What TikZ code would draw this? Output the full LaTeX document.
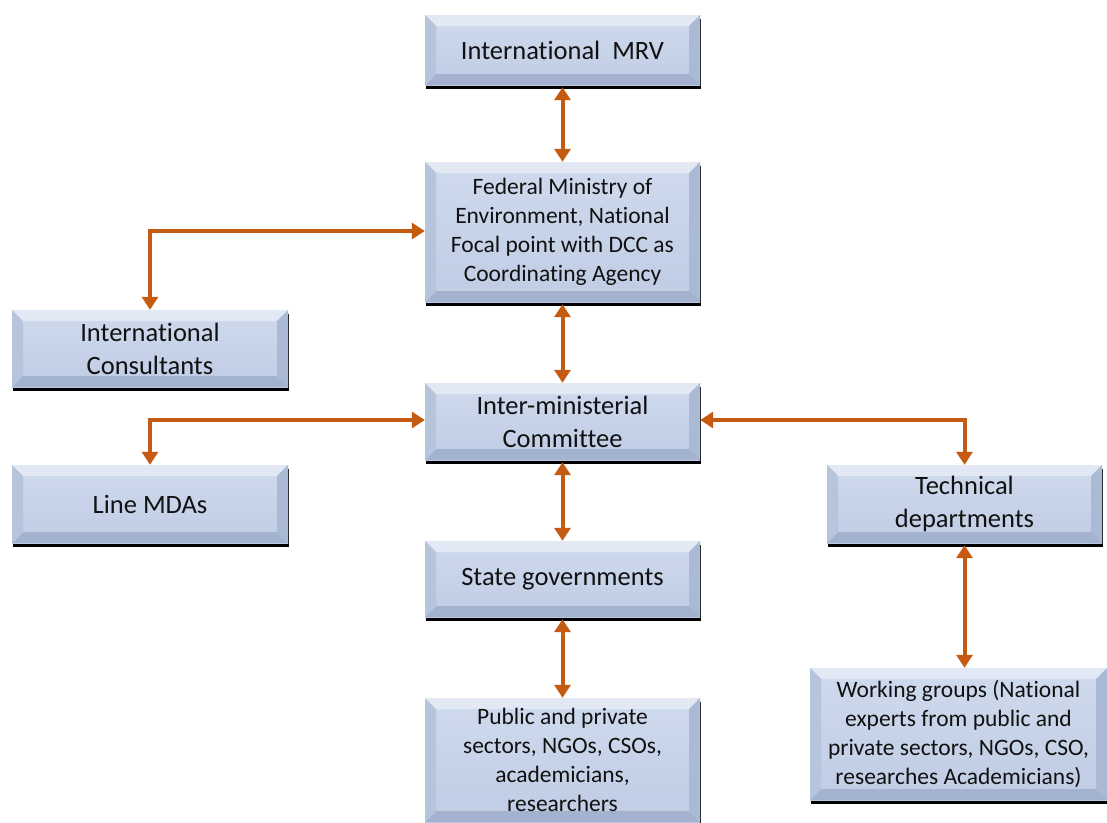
\documentclass[tikz,border=0pt]{standalone}
\usepackage{fontspec}
\setmainfont{Carlito}[Ligatures={NoCommon}]
\usetikzlibrary{arrows.meta,shadows}
\definecolor{boxtop}{HTML}{CFDAED}
\definecolor{boxbot}{HTML}{BFCCE4}
\definecolor{bevtop}{HTML}{E2E9F5}
\definecolor{bevright}{HTML}{AAB9D4}
\definecolor{bevbot}{HTML}{A2B2CF}
\definecolor{bevleft}{HTML}{B6C4DC}
\definecolor{arrc}{HTML}{C55A11}
\definecolor{txt}{HTML}{111111}
\tikzset{
  bevelbox/.style={top color=boxtop, bottom color=boxbot, inner sep=0pt, align=center, text=txt,
    drop shadow={shadow xshift=1pt, shadow yshift=-3.5pt, fill=black, opacity=1},
    path picture={
      \coordinate (pA) at (path picture bounding box.north west);
      \coordinate (pB) at (path picture bounding box.north east);
      \coordinate (pC) at (path picture bounding box.south east);
      \coordinate (pD) at (path picture bounding box.south west);
      \fill[bevtop] (pA) -- (pB) -- ([shift={(-11pt,-11pt)}]pB) -- ([shift={(11pt,-11pt)}]pA) -- cycle;
      \fill[bevright] (pB) -- (pC) -- ([shift={(-11pt,11pt)}]pC) -- ([shift={(-11pt,-11pt)}]pB) -- cycle;
      \fill[bevbot] (pC) -- (pD) -- ([shift={(11pt,11pt)}]pD) -- ([shift={(-11pt,11pt)}]pC) -- cycle;
      \fill[bevleft] (pD) -- (pA) -- ([shift={(11pt,-11pt)}]pA) -- ([shift={(11pt,11pt)}]pD) -- cycle;
    }},
  bigtext/.style={font=\fontsize{26.5}{33}\selectfont},
  smalltext/.style={font=\fontsize{23.5}{29}\selectfont},
  conn/.style={draw=arrc, line width=4pt,
    {Triangle[width=16pt,length=13pt]}-{Triangle[width=16pt,length=13pt]}}
}
\begin{document}
\begin{tikzpicture}[x=1pt,y=-1pt]
\useasboundingbox (0,0) rectangle (1107,822);
\node[bevelbox,bigtext,minimum width=275,minimum height=70] (mrv) at (562.5,50) {International\ \ MRV};
\node[bevelbox,smalltext,minimum width=275,minimum height=140] (fed) at (562.5,232) {Federal Ministry of\\Environment, National\\Focal point with DCC as\\Coordinating Agency};
\node[bevelbox,bigtext,minimum width=276,minimum height=77] (cons) at (150,348.5) {International\\Consultants};
\node[bevelbox,bigtext,minimum width=275,minimum height=77] (imc) at (562.5,421.5) {Inter-ministerial\\Committee};
\node[bevelbox,bigtext,minimum width=276,minimum height=78] (mda) at (150,504) {Line MDAs};
\node[bevelbox,bigtext,minimum width=275,minimum height=78] (tech) at (964.5,504) {Technical\\departments};
\node[bevelbox,bigtext,minimum width=275,minimum height=76] (state) at (562.5,579) {State governments};
\node[bevelbox,smalltext,minimum width=275,minimum height=124] (pub) at (562.5,760) {Public and private\\sectors, NGOs, CSOs,\\academicians,\\researchers};
\node[bevelbox,smalltext,minimum width=297,minimum height=132] (wg) at (958.5,734) {Working groups (National\\experts from public and\\private sectors, NGOs, CSO,\\researches Academicians)};
\draw[conn] ([yshift=-2pt]mrv.south) -- (fed.north);
\draw[conn] ([yshift=1pt]fed.west) -| (cons.north);
\draw[conn] ([yshift=-2pt]fed.south) -- (imc.north);
\draw[conn] ([yshift=1.5pt]imc.west) -| (mda.north);
\draw[conn] ([yshift=1.5pt]imc.east) -| (tech.north);
\draw[conn] ([yshift=-2pt]imc.south) -- (state.north);
\draw[conn] ([yshift=-2pt]state.south) -- (pub.north);
\draw[conn] ([yshift=-2pt]tech.south) -- (tech.south |- wg.north);
\end{tikzpicture}
\end{document}
